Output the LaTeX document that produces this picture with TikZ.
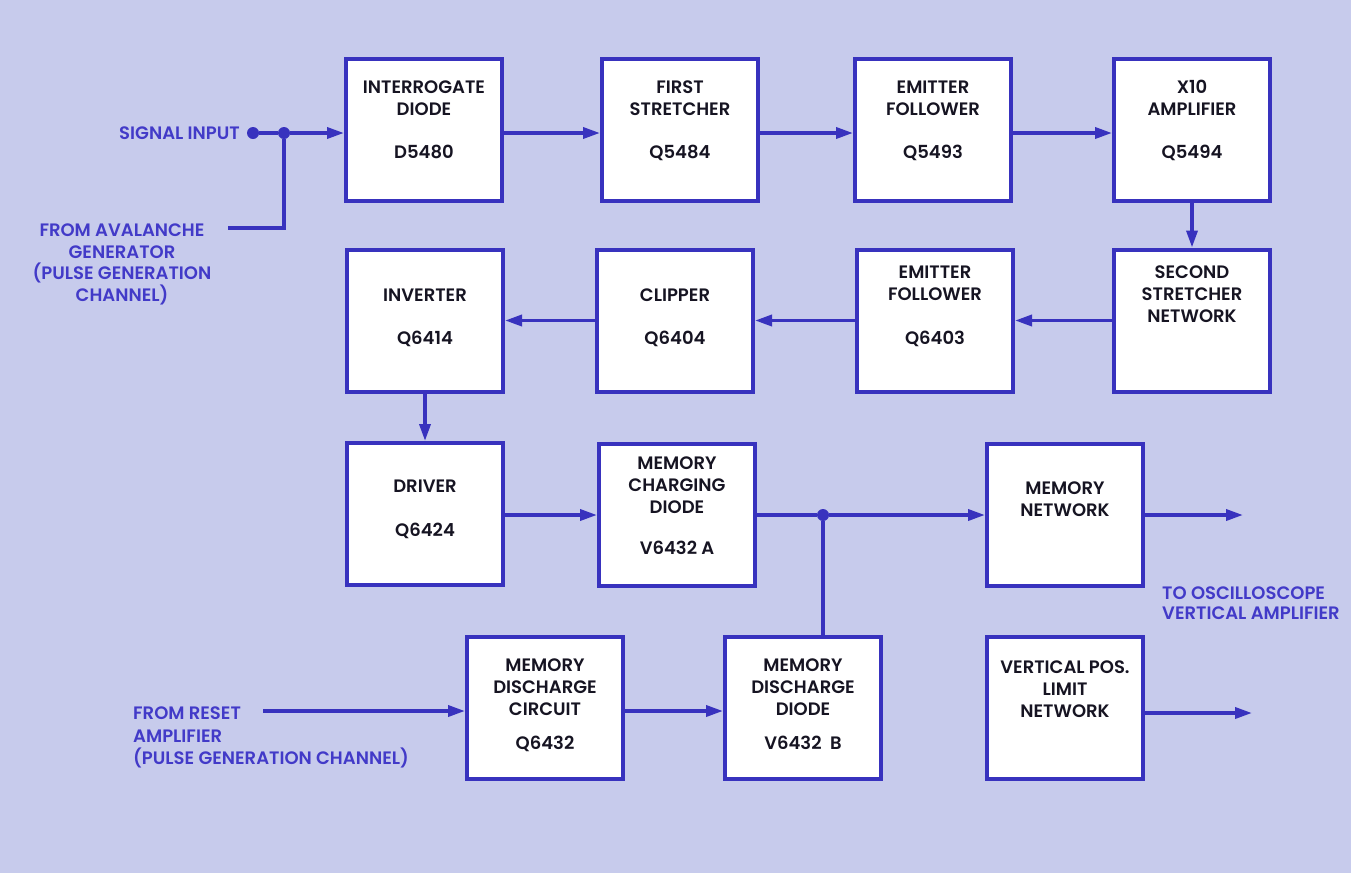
\documentclass[tikz,border=0pt]{standalone}
\usepackage{fontspec}
\setmainfont{Poppins SemiBold}
\usetikzlibrary{arrows.meta}
\definecolor{bgc}{RGB}{199,203,236}
\definecolor{ln}{RGB}{56,50,190}
\definecolor{lbl}{RGB}{66,58,200}
\definecolor{btx}{RGB}{22,20,34}
\begin{document}
\begin{tikzpicture}[x=1pt,y=-1pt,
  box/.style={draw=ln,fill=white,line width=4pt,minimum width=156pt,minimum height=142pt,inner sep=0pt},
  btxt/.style={font=\fontsize{18}{22}\selectfont,text=btx,align=center,anchor=base,inner sep=0pt},
  ltxt/.style={font=\fontsize{18}{21.5}\selectfont,text=lbl,inner sep=0pt},
  conn/.style={draw=ln,line width=3.5pt},
  arr/.style={conn,-{Triangle[length=17pt,width=11pt]}},
  dot/.style={circle,fill=ln,inner sep=0pt,minimum size=12pt}]
\fill[bgc] (0,0) rectangle (1351,873);
\useasboundingbox (0,0) rectangle (1351,873);

% row 1
\node[box] (ID) at (424,130) {};
\node[box] (FS) at (680,130) {};
\node[box] (EF1) at (933,130) {};
\node[box] (XA) at (1192,130) {};
\node[btxt] (IDt) at (424,158.5) {INTERROGATE\\DIODE\\[21pt]D5480};
\node[btxt] (FSt) at (680,158.5) {FIRST\\STRETCHER\\[21pt]Q5484};
\node[btxt] (EF1t) at (933,158.5) {EMITTER\\FOLLOWER\\[21pt]Q5493};
\node[btxt] (XAt) at (1192,158.5) {X10\\AMPLIFIER\\[21pt]Q5494};

% row 2
\node[box] (INV) at (425,320.5) {};
\node[box] (CL) at (675,320.5) {};
\node[box] (EF2) at (935,320.5) {};
\node[box] (SS) at (1192,320.5) {};
\node[btxt] (INVt) at (425,344.5) {INVERTER\\[21pt]Q6414};
\node[btxt] (CLt) at (675,344.5) {CLIPPER\\[21pt]Q6404};
\node[btxt] (EF2t) at (935,344.5) {EMITTER\\FOLLOWER\\[22pt]Q6403};
\node[btxt] (SSt) at (1192,322.5) {SECOND\\STRETCHER\\NETWORK};

% row 3
\node[box] (DR) at (425,514) {};
\node[box] (MCD) at (677,515) {};
\node[box] (MN) at (1065,515) {};
\node[btxt] (DRt) at (425,536.5) {DRIVER\\[22pt]Q6424};
\node[btxt] (MCDt) at (677,554.5) {MEMORY\\CHARGING\\DIODE\\[19pt]V6432 A};
\node[btxt] (MNt) at (1065,516.5) {MEMORY\\NETWORK};

% row 4
\node[box] (MDC) at (545,708) {};
\node[box] (MDD) at (803,708) {};
\node[box] (VPL) at (1065,708) {};
\node[btxt] (MDCt) at (545,749.5) {MEMORY\\DISCHARGE\\CIRCUIT\\[12pt]Q6432};
\node[btxt] (MDDt) at (803,749.5) {MEMORY\\DISCHARGE\\DIODE\\[12pt]V6432\ \ B};
\node[btxt] (VPLt) at (1065,717) {VERTICAL POS.\\LIMIT\\NETWORK};

% outside labels
\node[ltxt,anchor=base east] (sig) at (240,139.5) {SIGNAL INPUT};
\node[ltxt,anchor=base,align=center] (aval) at (122,301) {FROM AVALANCHE\\GENERATOR\\(PULSE GENERATION\\CHANNEL)};
\node[ltxt,anchor=base west,align=left,font=\fontsize{18}{22.5}\selectfont] (reset) at (133,764.5) {FROM RESET\\AMPLIFIER\\(PULSE GENERATION CHANNEL)};
\node[ltxt,anchor=base west,align=left,font=\fontsize{18}{20}\selectfont] (osc) at (1162,619.5) {TO OSCILLOSCOPE\\VERTICAL AMPLIFIER};

% signal input
\node[dot] (sd) at (253,133) {};
\node[dot] (j1) at (284,133) {};
\coordinate (av) at (228,228);
\draw[conn] (sd) -- (j1);
\draw[conn] (av) -| (j1);
\draw[arr] (j1) -- (ID.west |- j1);
\draw[arr] (ID.east |- j1) -- (FS.west |- j1);
\draw[arr] (FS.east |- j1) -- (EF1.west |- j1);
\draw[arr] (EF1.east |- j1) -- (XA.west |- j1);
\draw[arr] (XA.south) -- (SS.north);
\draw[arr] (SS.west) -- (EF2.east);
\draw[arr] (EF2.west) -- (CL.east);
\draw[arr] (CL.west) -- (INV.east);
\draw[arr] (INV.south) -- (DR.north);
\draw[arr] (DR.east |- MCD.west) -- (MCD.west);
\node[dot] (j2) at (823,515) {};
\draw[conn] (MCD.east) -- (j2);
\draw[arr] (j2) -- (MN.west);
\draw[conn] (j2) -- (j2 |- MDD.north);
\coordinate (rs) at (263,711);
\draw[arr] (rs) -- (MDC.west |- rs);
\draw[arr] (MDC.east |- rs) -- (MDD.west |- rs);
\coordinate (mo) at (1243,515);
\coordinate (vo) at (1252,713);
\draw[arr] (MN.east |- mo) -- (mo);
\draw[arr] (VPL.east |- vo) -- (vo);
\end{tikzpicture}
\end{document}
